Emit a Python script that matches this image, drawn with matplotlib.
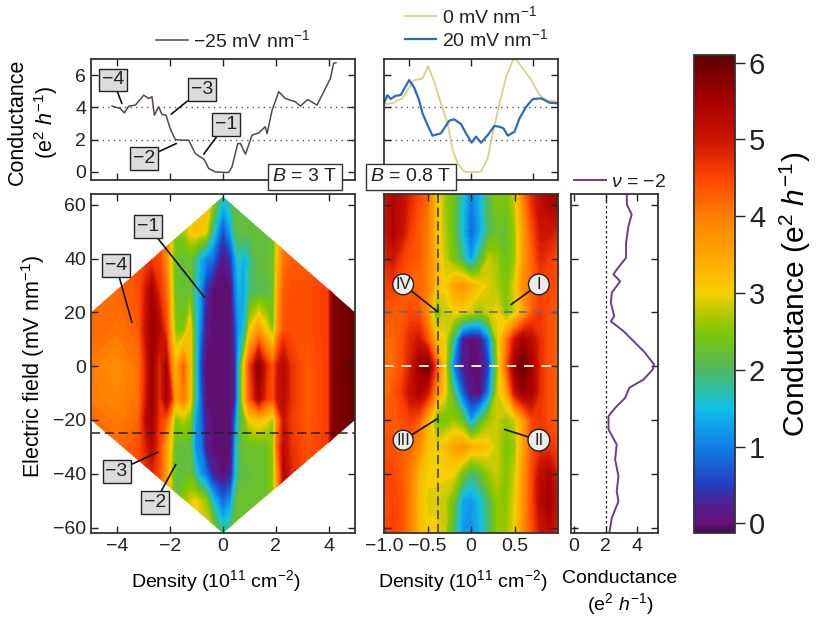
import matplotlib
matplotlib.use("Agg")
import matplotlib.pyplot as plt
from matplotlib.cm import ScalarMappable
from matplotlib.colors import LinearSegmentedColormap, Normalize
from matplotlib.patches import Polygon
import numpy as np

plt.rcParams.update(
    {
        "font.family": ["Liberation Sans", "DejaVu Sans"],
        "mathtext.fontset": "custom",
        "mathtext.rm": "Liberation Sans",
        "mathtext.it": "Liberation Sans:italic",
        "mathtext.default": "rm",
        "axes.linewidth": 1.3,
        "axes.edgecolor": "#333333",
        "xtick.direction": "in",
        "ytick.direction": "in",
        "xtick.top": True,
        "ytick.right": True,
        "xtick.major.size": 5,
        "ytick.major.size": 5,
        "xtick.major.width": 1.0,
        "ytick.major.width": 1.0,
        "xtick.color": "#222222",
        "ytick.color": "#222222",
        "font.size": 14,
        "text.color": "#222222",
    }
)

# top left trace, -25 mV/nm
trace_25_density = [-4.2, -3.89, -3.74, -3.57, -3.32, -3.0, -2.82, -2.69, -2.6, -2.44, -2.31, -2.16, -2.0,
                    -1.81, -1.55, -1.3, -1.05, -0.71, -0.54, -0.29, 0.21, 0.34, 0.56, 0.66, 0.85, 1.1, 1.35,
                    1.6, 1.67, 1.86, 2.11, 2.36, 2.74, 2.93, 3.21, 3.56, 3.88, 4.07, 4.19, 4.28]
trace_25_cond = [4.08, 3.93, 3.66, 4.08, 4.14, 4.76, 4.55, 4.66, 3.52, 4.04, 3.56, 3.52, 2.69,
                 2.01, 1.97, 1.97, 1.14, 0.77, 0.21, 0.0, -0.04, 0.31, 1.76, 1.76, 1.1, 2.28, 2.42,
                 2.8, 2.38, 3.83, 4.97, 4.55, 4.35, 4.08, 4.49, 4.14, 5.18, 5.8, 6.73, 6.77]

# top right traces
trace_0_density = [-0.7, -0.633, -0.552, -0.458, -0.39, -0.345, -0.296, -0.242, -0.188, -0.148, -0.108,
                   -0.054, 0.013, 0.081, 0.135, 0.175, 0.229, 0.283, 0.337, 0.364, 0.417, 0.485, 0.552,
                   0.606, 0.7]
trace_0_cond = [4.21, 4.25, 4.56, 5.69, 5.79, 6.56, 5.59, 4.25, 3.01, 1.36, 0.54,
                0.02, -0.02, 0.02, 0.85, 2.39, 4.25, 5.9, 6.93, 6.97, 6.41, 5.69, 4.76,
                4.45, 4.35]
trace_20_density = [-0.7, -0.673, -0.646, -0.606, -0.566, -0.498, -0.458, -0.418, -0.39, -0.35, -0.31,
                    -0.242, -0.175, -0.135, -0.081, -0.04, 0.005, 0.04, 0.081, 0.135, 0.188, 0.229, 0.261,
                    0.296, 0.35, 0.39, 0.444, 0.498, 0.565, 0.633, 0.7]
trace_20_cond = [4.25, 4.76, 4.52, 4.72, 4.76, 5.69, 5.24, 4.45, 3.63, 2.91, 2.25,
                 2.39, 3.18, 3.26, 2.97, 2.39, 1.81, 2.19, 1.81, 2.29, 2.85, 2.8, 2.7,
                 2.25, 2.49, 3.32, 4.04, 4.52, 4.56, 4.29, 4.25]

# side panel, nu = -2
nu_cond = [3.33, 3.33, 3.64, 3.43, 3.28, 3.28, 2.69, 2.48, 2.91, 2.38, 2.32, 2.53, 2.32, 3.12, 3.75, 4.48,
           5.05, 4.97, 4.38, 3.49, 3.22, 2.59, 2.17, 2.17, 2.69, 2.59, 2.8, 2.69, 2.8, 2.38, 2.23]
nu_field = [63.8, 60.1, 56.4, 52, 45.8, 40.3, 35.9, 34.1, 31.6, 27.3, 23.5, 18.6, 16.7, 13, 9.3, 5,
            0.6, -1.2, -5, -8, -11.8, -15.5, -18.6, -23.5, -29.1, -34.7, -40.9, -46.5, -50.2, -56.4, -61.7]

# left map, B = 3 T
left_density = [-5, -4, -3.2, -2.9, -2.7, -2.4, -2.15, -1.95, -1.8, -1.5, -1.25, -1.05, -0.85, -0.65, -0.4, 0,
                0.3, 0.45, 0.6, 0.8, 1, 1.35, 1.65, 1.9, 2.05, 2.3, 2.6, 3.2, 4, 4.15, 5]
left_field = [63, 50, 40, 28, 14, 0, -12, -20, -30, -40, -50, -62]
left_cond = [
    [4.3, 4.3, 4.3, 4.5, 4.5, 4.2, 4.0, 3.0, 2.5, 2.6, 2.8, 3.0, 3.2, 3.3, 2.8, 1.6, 2.0, 2.2, 2.2, 2.2, 2.2, 2.2, 2.2, 2.3, 3.0, 4.0, 4.3, 4.3, 4.5, 5.8, 6.0],
    [4.3, 4.3, 4.3, 4.5, 4.5, 4.2, 4.0, 3.0, 2.4, 2.6, 3.0, 3.2, 3.1, 3.0, 1.8, 0.6, 1.3, 2.0, 2.2, 2.2, 2.2, 2.2, 2.2, 2.3, 3.0, 4.0, 4.3, 4.3, 4.5, 5.8, 6.0],
    [4.3, 4.3, 4.4, 4.6, 4.6, 4.5, 3.8, 2.9, 2.3, 2.2, 2.3, 1.9, 1.4, 1.1, 0.9, 0.05, 0.5, 1.2, 1.7, 1.3, 1.8, 2.2, 2.2, 2.3, 3.1, 4.1, 4.3, 4.3, 4.5, 5.8, 6.0],
    [4.2, 4.2, 4.4, 5.0, 5.5, 4.7, 4.2, 3.0, 2.3, 2.2, 2.3, 1.7, 1.2, 0.4, 0.0, 0.0, 0.0, 0.9, 1.4, 1.3, 1.9, 2.1, 2.1, 2.3, 3.4, 4.3, 4.4, 4.4, 4.6, 5.8, 6.0],
    [4.2, 4.1, 4.3, 5.2, 5.6, 5.3, 4.5, 3.3, 2.5, 2.4, 3.2, 1.8, 1.0, 0.1, 0.0, 0.0, 0.0, 0.5, 1.2, 1.5, 2.9, 3.6, 3.0, 2.4, 3.6, 4.4, 4.4, 4.4, 4.6, 5.8, 6.0],
    [4.0, 3.8, 4.1, 4.9, 5.6, 4.7, 5.5, 3.9, 3.3, 4.3, 3.2, 1.8, 0.6, 0.0, 0.0, 0.0, 0.0, 0.3, 1.6, 3.2, 4.5, 5.8, 4.8, 4.3, 4.9, 5.3, 4.7, 4.3, 4.6, 5.8, 6.0],
    [4.0, 3.9, 4.1, 5.0, 5.6, 4.7, 5.5, 4.8, 3.4, 4.0, 3.2, 1.8, 0.8, 0.0, 0.0, 0.0, 0.0, 0.3, 1.6, 3.3, 4.3, 5.4, 4.6, 4.4, 5.0, 5.2, 4.7, 4.3, 4.6, 5.8, 6.0],
    [4.2, 4.0, 4.2, 5.3, 5.5, 4.6, 4.3, 3.2, 2.5, 2.7, 2.5, 1.3, 0.9, 0.2, 0.0, 0.0, 0.0, 0.8, 1.9, 2.4, 3.0, 3.2, 3.0, 2.6, 3.8, 5.0, 4.6, 4.3, 4.6, 5.8, 6.0],
    [4.2, 4.2, 4.4, 4.9, 5.3, 4.5, 3.6, 2.9, 2.2, 2.2, 2.2, 1.1, 1.0, 0.2, 0.0, 0.0, 0.0, 1.2, 2.0, 2.3, 2.3, 2.3, 2.3, 2.6, 4.2, 5.2, 4.7, 4.4, 4.6, 5.8, 6.0],
    [4.3, 4.3, 4.4, 4.7, 4.8, 4.4, 3.6, 2.7, 2.2, 2.2, 2.3, 1.8, 1.2, 0.9, 0.3, 0.0, 0.2, 1.3, 2.0, 2.2, 2.2, 2.3, 2.3, 2.6, 3.6, 5.3, 4.8, 4.4, 4.6, 5.8, 6.0],
    [4.3, 4.3, 4.4, 4.7, 4.8, 4.4, 3.6, 2.7, 2.2, 2.6, 2.8, 3.0, 2.8, 2.6, 1.6, 0.8, 1.2, 2.0, 2.3, 2.3, 2.3, 2.3, 2.3, 2.6, 3.6, 5.3, 4.8, 4.4, 4.6, 5.8, 6.0],
    [4.3, 4.3, 4.4, 4.7, 4.8, 4.4, 3.6, 2.7, 2.2, 2.6, 2.8, 3.0, 3.0, 3.0, 2.8, 1.8, 2.1, 2.3, 2.3, 2.3, 2.3, 2.3, 2.3, 2.6, 3.6, 5.3, 4.8, 4.4, 4.6, 5.8, 6.0],
]
diamond_density = [-5, 0, 5, 5, 0, -5]
diamond_field = [20, 63, 20, -20, -62, -20]

# right map, B = 0.8 T
right_density = [-1, -0.9, -0.8, -0.7, -0.6, -0.5, -0.4, -0.3, -0.2, -0.1, 0, 0.1, 0.2, 0.3, 0.4, 0.5, 0.6, 0.7, 0.8, 0.9, 1]
right_field = [64, 50, 40, 30, 20, 10, 0, -10, -20, -30, -40, -50, -62]
right_cond = [
    [4.8, 5.4, 5.2, 4.8, 4.5, 4.2, 3.2, 2.6, 2.3, 1.6, 1.0, 1.4, 2.1, 2.5, 2.4, 2.8, 4.0, 4.8, 5.2, 5.5, 5.7],
    [5.0, 5.4, 5.1, 4.6, 4.3, 4.0, 3.2, 2.7, 2.3, 1.5, 0.8, 1.3, 2.0, 2.3, 2.2, 2.6, 3.6, 4.4, 5.0, 5.0, 4.8],
    [4.8, 5.0, 4.6, 4.4, 4.3, 4.0, 3.3, 2.8, 2.4, 1.9, 1.2, 2.0, 2.8, 2.6, 2.3, 2.6, 3.6, 4.2, 4.8, 4.6, 4.4],
    [4.5, 4.6, 4.4, 4.2, 4.2, 4.0, 3.2, 3.0, 3.5, 3.7, 3.4, 3.1, 2.9, 2.7, 2.4, 2.9, 3.8, 4.2, 4.5, 4.5, 4.4],
    [4.4, 4.3, 4.3, 4.5, 4.4, 3.8, 2.3, 2.8, 3.0, 3.0, 2.8, 2.6, 2.8, 3.0, 2.5, 2.8, 3.5, 4.3, 4.6, 4.4, 4.3],
    [4.2, 4.2, 4.4, 4.8, 5.0, 4.4, 3.2, 3.0, 1.8, 0.2, 0.0, 0.1, 1.0, 2.8, 3.9, 5.0, 5.5, 5.2, 4.7, 4.4, 4.3],
    [4.1, 4.2, 4.4, 4.9, 5.6, 6.0, 4.5, 3.0, 1.0, 0.2, 0.0, 0.0, 0.5, 2.5, 4.2, 5.6, 6.0, 5.5, 4.7, 4.4, 4.2],
    [4.1, 4.3, 4.6, 5.1, 5.4, 5.0, 3.8, 3.0, 2.0, 0.8, 0.1, 0.0, 1.0, 2.8, 3.4, 5.0, 5.6, 5.4, 4.7, 4.4, 4.3],
    [4.3, 4.3, 4.4, 4.6, 4.3, 3.4, 2.4, 2.4, 2.6, 2.3, 1.2, 2.0, 2.6, 2.8, 2.6, 2.8, 3.6, 4.5, 4.6, 4.4, 4.3],
    [4.4, 4.4, 4.3, 4.2, 3.8, 3.2, 3.0, 3.2, 3.5, 3.7, 3.4, 3.3, 3.1, 2.8, 2.4, 2.6, 3.5, 4.4, 4.7, 4.7, 4.5],
    [4.5, 4.5, 4.3, 4.0, 3.3, 3.0, 3.0, 3.0, 3.0, 2.4, 1.9, 2.2, 2.6, 2.8, 2.5, 2.8, 3.7, 4.5, 5.2, 5.4, 4.8],
    [4.4, 4.5, 4.4, 4.0, 3.3, 2.9, 2.9, 2.8, 2.3, 1.3, 1.2, 1.5, 2.0, 2.6, 2.5, 2.9, 3.7, 4.5, 5.3, 5.6, 5.0],
    [4.4, 4.6, 4.4, 4.0, 3.3, 3.0, 3.0, 2.8, 2.0, 1.2, 1.1, 1.4, 1.9, 2.6, 2.6, 3.0, 3.8, 4.4, 5.0, 5.2, 4.8],
]

cbar_ticks = [0, 1, 2, 3, 4, 5, 6]
cmap_values = [-0.126, 0.0, 0.25, 0.5, 1.0, 1.5, 1.75, 2.0, 2.5, 2.75, 3.0, 3.5, 4.0, 4.5, 5.0, 5.5, 6.0, 6.1]
cmap_colors = ["#40104f", "#66107c", "#50208f", "#2040c0", "#1080e8", "#10c0e8", "#30c0a0", "#50b860", "#80c800",
               "#b8c800", "#f5d000", "#ffa500", "#ff8000", "#ff4500", "#cc1500", "#a80000", "#6a0000", "#5c0505"]

vmin, vmax = cmap_values[0], cmap_values[-1]
cmap = LinearSegmentedColormap.from_list(
    "cond", [((v - vmin) / (vmax - vmin), c) for v, c in zip(cmap_values, cmap_colors)], N=256
)
norm = Normalize(vmin, vmax)
levels = np.linspace(vmin, vmax, 80)

W, H = 819, 619
fig = plt.figure(figsize=(W / 100, H / 100), dpi=100)


def px_axes(left, top, right, bottom):
    return fig.add_axes([left / W, 1 - bottom / H, (right - left) / W, (bottom - top) / H])


def tag(ax, label, xy, xytext, pad=None):
    if pad is not None:
        box = dict(boxstyle=f"circle,pad={pad}", fc="#ececec", ec="#222222", lw=1.0)
        size = 12
    else:
        box = dict(boxstyle="square,pad=0.15", fc="#dcdcdc", ec="#222222", lw=1.0)
        size = 14
    ax.annotate(
        label, xy=xy, xytext=xytext, ha="center", va="center", fontsize=size, bbox=box,
        arrowprops=dict(arrowstyle="-", color="#111111", lw=1.2, shrinkA=0, shrinkB=0),
        annotation_clip=False, zorder=10,
    )


ax_top_l = px_axes(91, 59, 355, 180)
ax_top_r = px_axes(384, 59, 558, 180)
ax_map_l = px_axes(91, 194, 355, 533)
ax_map_r = px_axes(384, 194, 558, 533)
ax_side = px_axes(571, 194, 658, 533)
ax_cbar = px_axes(694, 55, 735, 533)

# conductance vs density
ax_top_l.plot(trace_25_density, trace_25_cond, color="#54474a", lw=1.1)
ax_top_l.set_xlim(-5, 5)
ax_top_l.set_xticks([-4, -2, 0, 2, 4], [])
ax_top_l.set_yticks([0, 2, 4, 6], ["0", "2", "4", "6"])
ax_top_l.set_ylabel("Conductance\n($e^2$ $\\mathit{h}^{-1}$)", fontsize=15.5)
ax_top_l.yaxis.set_label_coords(-0.117, 0.48)
ax_top_l.legend(
    ax_top_l.plot([], [], color="#54474a", lw=1.1), ["\u221225 mV nm$^{-1}$"],
    loc="lower center", bbox_to_anchor=(0.54, 0.97), frameon=False, handlelength=1.6, handletextpad=0.3,
    borderpad=0.1,
)
tag(ax_top_l, "\u22124", (-3.83, 4.24), (-4.17, 5.7))
tag(ax_top_l, "\u22123", (-1.96, 3.58), (-0.8, 5.13))
tag(ax_top_l, "\u22122", (-1.77, 1.76), (-3.0, 0.83))
tag(ax_top_l, "\u22121", (-0.73, 1.1), (0.11, 2.96))
ax_top_l.text(
    0.81, 0.025, "$\\mathit{B}$ = 3 T", transform=ax_top_l.transAxes, ha="center", va="center", fontsize=14,
    bbox=dict(boxstyle="square,pad=0.25", fc="white", ec="#333333", lw=1.0), zorder=10, clip_on=False,
)

line_0, = ax_top_r.plot(trace_0_density, trace_0_cond, color="#d9d08c", lw=1.3)
line_20, = ax_top_r.plot(trace_20_density, trace_20_cond, color="#2b6cb8", lw=1.6)
ax_top_r.set_xlim(-0.7, 0.7)
ax_top_r.set_xticks([-0.5, 0, 0.5], [])
ax_top_r.set_yticks([0, 2, 4, 6], [])
ax_top_r.legend(
    [line_0, line_20], ["0 mV nm$^{-1}$", "20 mV nm$^{-1}$"], loc="lower center", bbox_to_anchor=(0.53, 0.98),
    frameon=False, handlelength=1.6, handletextpad=0.3, labelspacing=0.05, borderpad=0.1,
)
ax_top_r.text(
    0.155, 0.025, "$\\mathit{B}$ = 0.8 T", transform=ax_top_r.transAxes, ha="center", va="center", fontsize=14,
    bbox=dict(boxstyle="square,pad=0.25", fc="white", ec="#333333", lw=1.0), zorder=10, clip_on=False,
)

for ax in [ax_top_l, ax_top_r]:
    ax.set_ylim(-0.5, 7)
    ax.axhline(2, color="#555555", ls=(0, (1, 3)), lw=1.0, zorder=1)
    ax.axhline(4, color="#555555", ls=(0, (1, 3)), lw=1.0, zorder=1)

# left map, clipped to the measured diamond
cs_l = ax_map_l.contourf(left_density, left_field, np.array(left_cond), levels=levels, cmap=cmap, norm=norm)
cs_l.set_clip_path(Polygon(np.column_stack([diamond_density, diamond_field]), transform=ax_map_l.transData))
ax_map_l.axhline(-25, color="#222222", ls=(0, (6, 3)), lw=1.1)
ax_map_l.set_xlim(-5, 5)
ax_map_l.set_xticks([-4, -2, 0, 2, 4], ["\u22124", "\u22122", "0", "2", "4"])
ax_map_l.set_yticks([-60, -40, -20, 0, 20, 40, 60], ["\u221260", "\u221240", "\u221220", "0", "20", "40", "60"])
ax_map_l.set_xlabel("Density (10$^{11}$ cm$^{-2}$)")
ax_map_l.xaxis.set_label_coords(0.473, -0.105)
ax_map_l.set_ylabel("Electric field (mV nm$^{-1}$)", fontsize=15.5)
ax_map_l.yaxis.set_label_coords(-0.167, 0.49)
tag(ax_map_l, "\u22121", (-0.71, 25.7), (-2.83, 52))
tag(ax_map_l, "\u22124", (-3.45, 16.3), (-4.05, 37.4))
tag(ax_map_l, "\u22123", (-2.47, -32), (-4.03, -39))
tag(ax_map_l, "\u22122", (-1.79, -36.5), (-2.58, -50.8))

# right map
ax_map_r.contourf(right_density, right_field, np.array(right_cond), levels=levels, cmap=cmap, norm=norm)
ax_map_r.axvline(-0.38, color="#333333", ls=(0, (6, 3)), lw=1.1)
ax_map_r.axhline(20, color="#5a6c9c", ls=(0, (5, 4)), lw=1.2)
ax_map_r.axhline(0, color="#f4ecd0", ls=(0, (5, 4)), lw=1.4)
ax_map_r.set_xlim(-1, 1)
ax_map_r.set_xticks([-1, -0.5, 0, 0.5], ["\u22121.0", "\u22120.5", "0", "0.5"])
ax_map_r.set_yticks([-60, -40, -20, 0, 20, 40, 60], [])
ax_map_r.set_xlabel("Density (10$^{11}$ cm$^{-2}$)")
ax_map_r.xaxis.set_label_coords(0.454, -0.105)
tag(ax_map_r, "IV", (-0.39, 20.4), (-0.78, 30.4), pad=0.15)
tag(ax_map_r, "I", (0.46, 22.9), (0.78, 30.4), pad=0.17)
tag(ax_map_r, "III", (-0.39, -19.6), (-0.78, -27.5), pad=0.15)
tag(ax_map_r, "II", (0.385, -23.5), (0.78, -27.5), pad=0.2)

for ax in [ax_map_l, ax_map_r, ax_side]:
    ax.set_ylim(-62, 64)

# line cut at nu = -2
ax_side.plot(nu_cond, nu_field, color="#6d3f80", lw=1.4)
ax_side.axvline(2, color="#222222", ls=(0, (2, 2)), lw=0.9)
ax_side.set_xlim(-0.2, 5.3)
ax_side.set_xticks([0, 2, 4], ["0", "2", "4"])
ax_side.set_yticks([-60, -40, -20, 0, 20, 40, 60], [])
ax_side.set_xlabel("Conductance\n($e^2$ $\\mathit{h}^{-1}$)")
ax_side.xaxis.set_label_coords(0.563, -0.11)
ax_side.legend(
    ax_side.plot([], [], color="#6d3f80", lw=1.4), ["$\\mathit{\\nu}$ = \u22122"],
    loc="lower center", bbox_to_anchor=(0.57, 0.975), frameon=False, handlelength=1.6, handletextpad=0.3,
    borderpad=0.1,
)

# colour bar
cbar = fig.colorbar(ScalarMappable(norm=norm, cmap=cmap), cax=ax_cbar)
cbar.set_ticks(cbar_ticks, labels=[str(t) for t in cbar_ticks])
ax_cbar.tick_params(axis="y", which="major", direction="out", left=False, right=True, length=7, labelsize=21, pad=3)
cbar.outline.set_linewidth(1.3)
cbar.set_label("Conductance ($e^2$ $\\mathit{h}^{-1}$)", fontsize=21.5, labelpad=9)

fig.savefig("out.png", dpi=100)
